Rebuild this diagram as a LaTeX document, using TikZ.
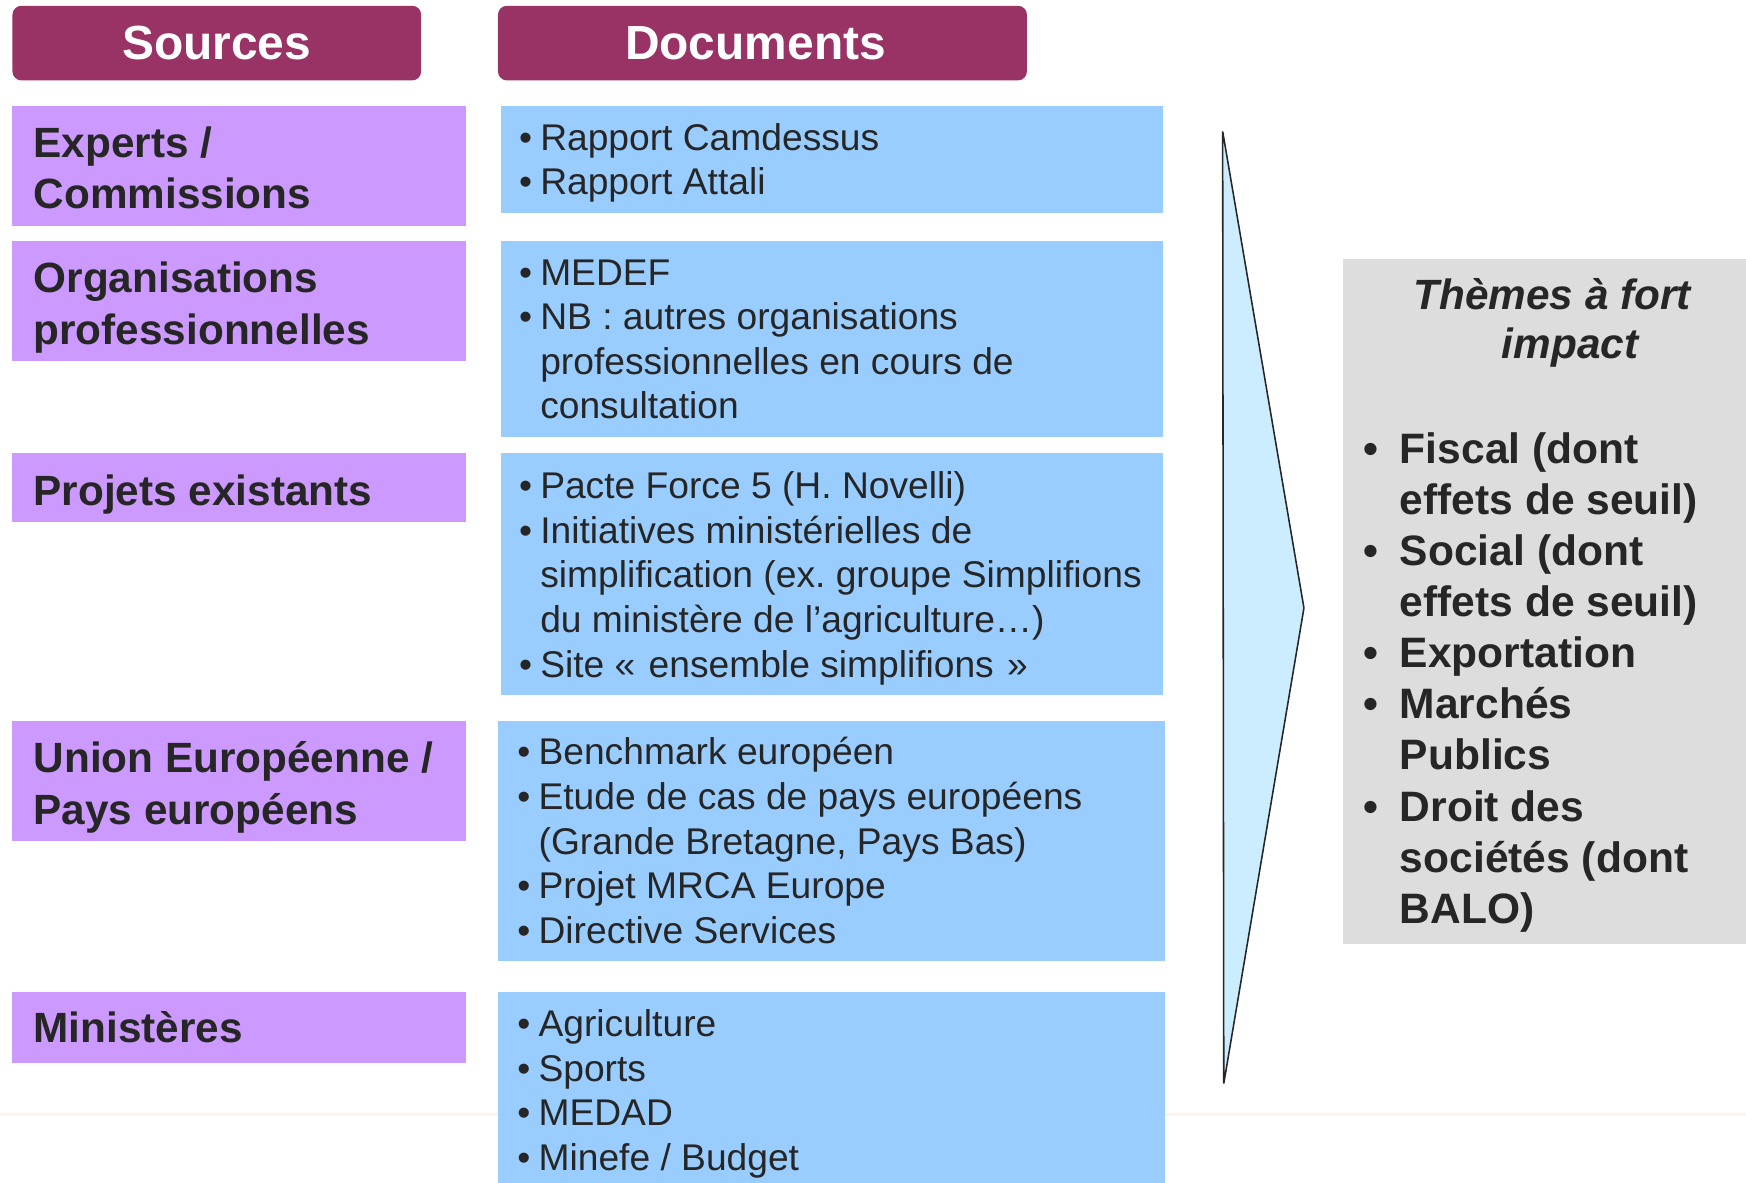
\documentclass[tikz,border=0pt]{standalone}
\usepackage{fontspec}
\setmainfont{Liberation Sans}
\definecolor{hdr}{HTML}{993366}
\definecolor{srcfill}{HTML}{CC99FF}
\definecolor{docfill}{HTML}{99CCFF}
\definecolor{arrfill}{HTML}{CCECFF}
\definecolor{themefill}{HTML}{DDDDDD}
\definecolor{ink}{HTML}{262626}
\definecolor{faintline}{HTML}{FBF5EE}
\newcommand\dbul{\makebox[19pt][l]{•}}
\newcommand\dind{\hspace*{19pt}}
\newcommand\tbul{\makebox[33pt][l]{•}}
\newcommand\tind{\hspace*{33pt}}
\frenchspacing
\begin{document}
\begin{tikzpicture}[x=1pt,y=-1pt,
  hdrbox/.style={fill=hdr, draw=none, rounded corners=8pt, anchor=north west, inner sep=0pt},
  hdrtext/.style={text=white, font=\fontsize{43}{50}\selectfont\bfseries, inner sep=0pt, anchor=base},
  srcbox/.style={fill=srcfill, draw=none, anchor=north west, inner sep=0pt, minimum width=407pt},
  srctext/.style={text=ink, font=\fontsize{38}{46}\selectfont\bfseries, inner sep=0pt, anchor=base west},
  docbox/.style={fill=docfill, draw=none, anchor=north west, inner sep=0pt},
  doctext/.style={text=ink, font=\fontsize{33.4}{40}\selectfont, inner sep=0pt, anchor=base west},
  themebox/.style={fill=themefill, draw=none, anchor=north west, inner sep=0pt},
  themetitle/.style={text=ink, font=\fontsize{38}{44}\selectfont\bfseries\itshape, inner sep=0pt, anchor=base},
  themetext/.style={text=ink, font=\fontsize{38.2}{45.9}\selectfont\bfseries, inner sep=0pt, anchor=base west},
  arrowshape/.style={fill=arrfill, draw=ink, line width=1.4pt, line join=miter}
]
\useasboundingbox (0,0) rectangle (1568,1062);
\fill[white] (0,0) rectangle (1568,1062);

% faint background line
\coordinate (fl1) at (0,1001);
\coordinate (fl2) at (1568,1001);
\draw[faintline, line width=3pt] (fl1) -- (fl2);

% headers
\node[hdrbox, minimum width=367pt, minimum height=67pt] (hsrc) at (11,5) {};
\node[hdrtext] (hsrct) at (194.5,53) {Sources};
\node[hdrbox, minimum width=475pt, minimum height=67pt] (hdoc) at (447,5) {};
\node[hdrtext] (hdoct) at (678.5,53) {Documents};

% sources
\node[srcbox, minimum height=108pt] (s1) at (11,95) {};
\node[srctext] (s1t) at (30,141) {\begin{tabular}[t]{@{}l@{}}Experts /\\Commissions\end{tabular}};
\node[srcbox, minimum height=108pt] (s2) at (11,216) {};
\node[srctext] (s2t) at (30,263) {\begin{tabular}[t]{@{}l@{}}Organisations\\professionnelles\end{tabular}};
\node[srcbox, minimum height=62pt] (s3) at (11,407) {};
\node[srctext] (s3t) at (30,454) {Projets existants};
\node[srcbox, minimum height=108pt] (s4) at (11,647) {};
\node[srctext] (s4t) at (30,694) {\begin{tabular}[t]{@{}l@{}}Union Européenne /\\Pays européens\end{tabular}};
\node[srcbox, minimum height=63pt] (s5) at (11,891) {};
\node[srctext] (s5t) at (30,936) {Ministères};

% documents
\node[docbox, minimum width=594pt, minimum height=96pt] (d1) at (450,95) {};
\node[doctext] (d1t) at (466,135) {\begin{tabular}[t]{@{}l@{}}\dbul Rapport Camdessus\\\dbul Rapport Attali\end{tabular}};
\node[docbox, minimum width=594pt, minimum height=176pt] (d2) at (450,216) {};
\node[doctext] (d2t) at (466,256) {\begin{tabular}[t]{@{}l@{}}\dbul MEDEF\\\dbul NB : autres organisations\\\dind professionnelles en cours de\\\dind consultation\end{tabular}};
\node[docbox, minimum width=594pt, minimum height=217pt] (d3) at (450,407) {};
\node[doctext] (d3t) at (466,448) {\begin{tabular}[t]{@{}l@{}}\dbul Pacte Force 5 (H. Novelli)\\\dbul Initiatives ministérielles de\\\dind simplification (ex. groupe Simplifions\\\dind du ministère de l’agriculture…)\\\dbul Site «\hspace{12pt}ensemble simplifions\hspace{12pt}»\end{tabular}};
\node[docbox, minimum width=599pt, minimum height=216pt] (d4) at (447,647) {};
\node[doctext] (d4t) at (464.5,687) {\begin{tabular}[t]{@{}l@{}}\dbul Benchmark européen\\\dbul Etude de cas de pays européens\\\dind (Grande Bretagne, Pays Bas)\\\dbul Projet MRCA Europe\\\dbul Directive Services\end{tabular}};
\node[docbox, minimum width=599pt, minimum height=180pt] (d5) at (447,891) {};
\node[doctext] (d5t) at (464.5,931) {\begin{tabular}[t]{@{}l@{}}\dbul Agriculture\\\dbul Sports\\\dbul MEDAD\\\dbul Minefe / Budget\end{tabular}};

% arrow
\coordinate (atop) at (1098,118);
\coordinate (atip) at (1171,546);
\coordinate (abot) at (1099,973);
\draw[arrowshape] (atop) -- (atip) -- (abot) -- cycle;

% themes
\node[themebox, minimum width=370pt, minimum height=616pt] (th) at (1206,232) {};
\node[themetitle] (tht) at (1394,278) {\begin{tabular}[t]{@{}c@{}}Thèmes à fort\\\hspace*{32pt}impact\end{tabular}};
\node[themetext] (thl) at (1224,416) {\begin{tabular}[t]{@{}l@{}}\tbul Fiscal (dont\\\tind effets de seuil)\\\tbul Social (dont\\\tind effets de seuil)\\\tbul Exportation\\\tbul Marchés\\\tind Publics\\\tbul Droit des\\\tind sociétés (dont\\\tind BALO)\end{tabular}};
\end{tikzpicture}
\end{document}
